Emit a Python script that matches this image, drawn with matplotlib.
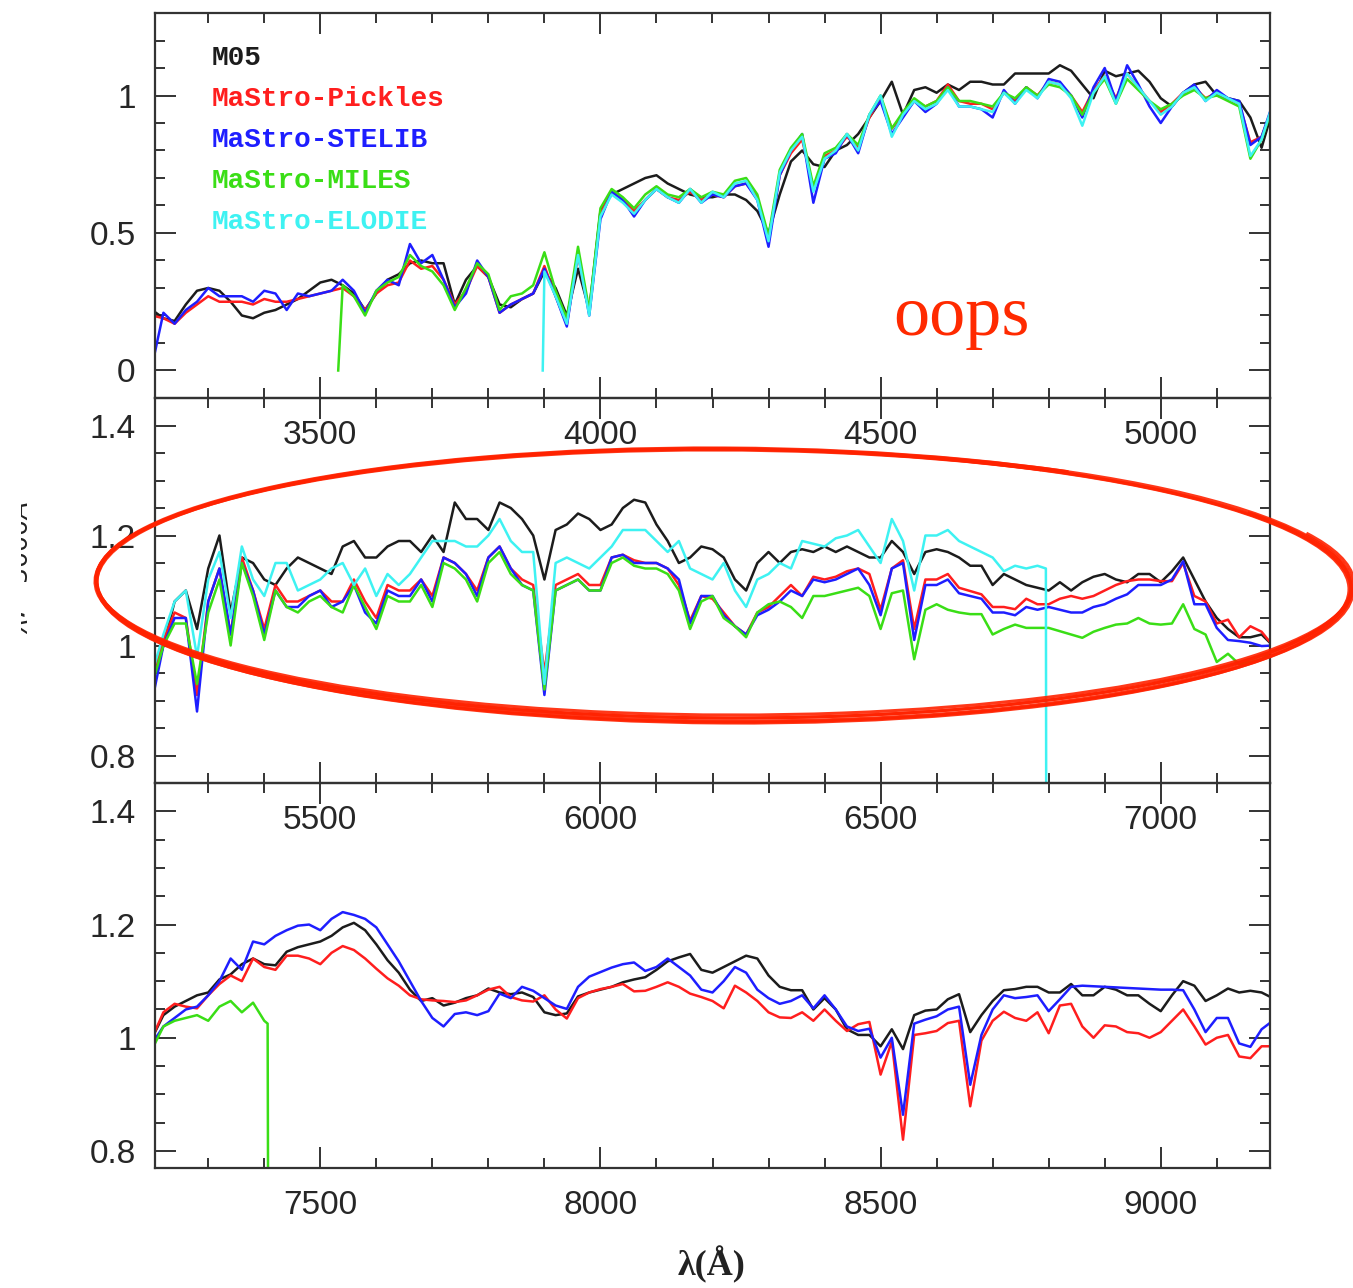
import matplotlib
matplotlib.use('Agg')
import matplotlib.pyplot as plt
import numpy as np
from matplotlib.patches import Arc
from matplotlib.transforms import IdentityTransform, Bbox
from matplotlib.ticker import MultipleLocator, FormatStrFormatter

plt.rcParams['font.family'] = ['Liberation Sans', 'DejaVu Sans']

W, H = 1353, 1288

# wavelength sampling (Angstrom), one grid per panel
wl_top = np.arange(3200, 5201, 20)
wl_mid = np.arange(5200, 7201, 20)
wl_bot = np.arange(7200, 9201, 20)

# wavelength coverage edges of the truncated libraries
miles_blue_edge = 3532
elodie_blue_edge = 3897
elodie_red_edge = [6795, 6796]
miles_red_edge = [7406, 7408]

# ---- top panel 3200-5200 ----
m05_top = [
    0.22, 0.19, 0.18, 0.24, 0.29, 0.30, 0.29, 0.25, 0.20, 0.19,
    0.21, 0.22, 0.24, 0.26, 0.29, 0.32, 0.33, 0.31, 0.28, 0.22,
    0.28, 0.33, 0.35, 0.39, 0.40, 0.39, 0.39, 0.24, 0.33, 0.38,
    0.34, 0.24, 0.23, 0.26, 0.28, 0.36, 0.30, 0.20, 0.37, 0.22,
    0.58, 0.64, 0.66, 0.68, 0.70, 0.71, 0.68, 0.66, 0.64, 0.63,
    0.63, 0.64, 0.64, 0.62, 0.58, 0.50, 0.64, 0.76, 0.80, 0.75,
    0.74, 0.80, 0.82, 0.86, 0.92, 0.98, 1.05, 0.93, 1.02, 1.03,
    1.01, 1.04, 1.02, 1.05, 1.05, 1.04, 1.04, 1.08, 1.08, 1.08,
    1.08, 1.11, 1.09, 1.04, 0.99, 1.09, 1.07, 1.08, 1.09, 1.05,
    0.99, 0.96, 1.01, 1.04, 1.05, 1.00, 0.99, 0.98, 0.92, 0.81,
    0.95]
pickles_top = [
    0.20, 0.19, 0.17, 0.21, 0.24, 0.27, 0.25, 0.25, 0.25, 0.24,
    0.26, 0.25, 0.25, 0.26, 0.27, 0.28, 0.29, 0.30, 0.27, 0.22,
    0.28, 0.31, 0.32, 0.40, 0.37, 0.38, 0.33, 0.24, 0.29, 0.38,
    0.34, 0.21, 0.24, 0.26, 0.28, 0.38, 0.27, 0.17, 0.42, 0.21,
    0.57, 0.65, 0.62, 0.58, 0.62, 0.66, 0.63, 0.62, 0.65, 0.62,
    0.64, 0.63, 0.67, 0.68, 0.63, 0.48, 0.71, 0.79, 0.84, 0.66,
    0.78, 0.80, 0.85, 0.81, 0.92, 0.99, 0.88, 0.93, 0.98, 0.96,
    0.98, 1.04, 0.98, 0.97, 0.97, 0.95, 1.01, 0.98, 1.03, 1.00,
    1.05, 1.04, 1.00, 0.94, 1.02, 1.07, 0.99, 1.08, 1.03, 0.98,
    0.94, 0.97, 1.01, 1.03, 0.99, 1.01, 0.99, 0.97, 0.83, 0.85,
    0.96]
stelib_top = [
    0.02, 0.21, 0.17, 0.22, 0.25, 0.30, 0.27, 0.27, 0.27, 0.25,
    0.29, 0.28, 0.22, 0.28, 0.27, 0.28, 0.29, 0.33, 0.29, 0.21,
    0.29, 0.33, 0.31, 0.46, 0.39, 0.42, 0.33, 0.23, 0.28, 0.40,
    0.34, 0.21, 0.24, 0.26, 0.28, 0.37, 0.27, 0.16, 0.43, 0.20,
    0.55, 0.65, 0.62, 0.56, 0.62, 0.66, 0.63, 0.61, 0.66, 0.61,
    0.64, 0.63, 0.67, 0.68, 0.62, 0.45, 0.71, 0.80, 0.86, 0.61,
    0.77, 0.79, 0.86, 0.79, 0.93, 0.98, 0.86, 0.92, 0.98, 0.94,
    0.97, 1.03, 0.96, 0.96, 0.95, 0.92, 1.02, 0.97, 1.03, 0.99,
    1.06, 1.05, 1.00, 0.92, 1.03, 1.10, 0.98, 1.11, 1.04, 0.96,
    0.90, 0.96, 1.01, 1.04, 0.98, 1.02, 0.99, 0.98, 0.82, 0.85,
    0.97]
# MILES starts at its blue edge, then 3540-5200
miles_top = [
    0.00, 0.31, 0.27, 0.20,
    0.29, 0.32, 0.34, 0.42, 0.38, 0.36, 0.31, 0.22, 0.30, 0.39,
    0.35, 0.22, 0.27, 0.28, 0.31, 0.43, 0.29, 0.19, 0.45, 0.22,
    0.59, 0.66, 0.63, 0.59, 0.64, 0.67, 0.64, 0.63, 0.66, 0.63,
    0.65, 0.64, 0.69, 0.70, 0.64, 0.49, 0.73, 0.81, 0.86, 0.67,
    0.79, 0.81, 0.86, 0.82, 0.93, 1.00, 0.88, 0.94, 0.99, 0.96,
    0.98, 1.03, 0.98, 0.98, 0.97, 0.96, 1.01, 0.99, 1.03, 1.00,
    1.04, 1.03, 1.00, 0.93, 1.01, 1.06, 0.97, 1.06, 1.02, 0.98,
    0.95, 0.97, 1.00, 1.02, 0.99, 1.00, 0.98, 0.96, 0.77, 0.84,
    0.96]
# ELODIE starts at its blue edge, then 3900-5200
elodie_top = [
    0.00, 0.36, 0.27, 0.17, 0.42, 0.20,
    0.56, 0.64, 0.61, 0.57, 0.62, 0.66, 0.63, 0.61, 0.66, 0.61,
    0.65, 0.63, 0.68, 0.69, 0.62, 0.47, 0.72, 0.80, 0.85, 0.65,
    0.77, 0.80, 0.86, 0.80, 0.93, 1.00, 0.85, 0.93, 0.98, 0.95,
    0.97, 1.02, 0.96, 0.96, 0.95, 0.94, 1.01, 0.97, 1.02, 0.99,
    1.05, 1.04, 0.99, 0.89, 1.01, 1.07, 0.97, 1.08, 1.03, 0.98,
    0.93, 0.96, 1.01, 1.03, 0.98, 1.01, 0.99, 0.97, 0.78, 0.84,
    0.97]

# ---- middle panel 5200-7200 ----
m05_mid = [
    0.93, 1.00, 1.08, 1.10, 1.03, 1.14, 1.20, 1.06, 1.16, 1.15,
    1.12, 1.11, 1.14, 1.16, 1.15, 1.14, 1.13, 1.18, 1.19, 1.16,
    1.16, 1.18, 1.19, 1.19, 1.17, 1.20, 1.17, 1.26, 1.23, 1.23,
    1.21, 1.26, 1.25, 1.23, 1.20, 1.12, 1.21, 1.22, 1.24, 1.23,
    1.21, 1.22, 1.25, 1.265, 1.26, 1.22, 1.19, 1.15, 1.16, 1.18,
    1.175, 1.16, 1.12, 1.10, 1.15, 1.17, 1.15, 1.17, 1.175, 1.17,
    1.18, 1.17, 1.18, 1.17, 1.16, 1.16, 1.19, 1.17, 1.13, 1.17,
    1.175, 1.17, 1.16, 1.145, 1.145, 1.11, 1.13, 1.12, 1.11, 1.105,
    1.10, 1.115, 1.10, 1.115, 1.125, 1.13, 1.12, 1.115, 1.13, 1.13,
    1.115, 1.135, 1.16, 1.12, 1.08, 1.05, 1.03, 1.015, 1.015, 1.02,
    1.00]
pickles_mid = [
    0.94, 1.01, 1.06, 1.05, 0.91, 1.08, 1.14, 1.02, 1.16, 1.10,
    1.03, 1.11, 1.08, 1.08, 1.09, 1.10, 1.08, 1.08, 1.12, 1.08,
    1.05, 1.11, 1.10, 1.10, 1.12, 1.09, 1.16, 1.15, 1.13, 1.10,
    1.16, 1.18, 1.14, 1.12, 1.11, 0.95, 1.11, 1.12, 1.13, 1.11,
    1.11, 1.16, 1.165, 1.155, 1.15, 1.15, 1.14, 1.11, 1.045, 1.09,
    1.085, 1.06, 1.035, 1.02, 1.06, 1.07, 1.09, 1.11, 1.09, 1.125,
    1.12, 1.125, 1.135, 1.14, 1.13, 1.065, 1.14, 1.155, 1.03, 1.12,
    1.12, 1.13, 1.105, 1.099, 1.093, 1.07, 1.07, 1.066, 1.085, 1.075,
    1.075, 1.085, 1.09, 1.085, 1.09, 1.10, 1.11, 1.117, 1.12, 1.12,
    1.117, 1.117, 1.15, 1.09, 1.08, 1.04, 1.047, 1.015, 1.035, 1.025,
    1.00]
stelib_mid = [
    0.90, 1.00, 1.05, 1.05, 0.88, 1.08, 1.14, 1.02, 1.15, 1.10,
    1.02, 1.10, 1.07, 1.07, 1.09, 1.10, 1.07, 1.08, 1.11, 1.06,
    1.04, 1.10, 1.09, 1.09, 1.12, 1.08, 1.16, 1.15, 1.13, 1.09,
    1.16, 1.18, 1.14, 1.11, 1.10, 0.91, 1.10, 1.11, 1.12, 1.10,
    1.10, 1.16, 1.165, 1.15, 1.15, 1.15, 1.14, 1.12, 1.04, 1.09,
    1.09, 1.055, 1.035, 1.02, 1.055, 1.065, 1.08, 1.10, 1.09, 1.12,
    1.115, 1.12, 1.13, 1.14, 1.11, 1.055, 1.14, 1.15, 1.01, 1.11,
    1.11, 1.12, 1.095, 1.09, 1.085, 1.06, 1.06, 1.055, 1.07, 1.065,
    1.07, 1.065, 1.06, 1.06, 1.07, 1.075, 1.085, 1.093, 1.11, 1.11,
    1.11, 1.12, 1.153, 1.075, 1.075, 1.032, 1.01, 1.008, 1.005, 0.999,
    1.00]
miles_mid = [
    0.93, 1.00, 1.04, 1.04, 0.93, 1.06, 1.12, 1.00, 1.15, 1.09,
    1.01, 1.10, 1.07, 1.06, 1.08, 1.09, 1.07, 1.06, 1.11, 1.07,
    1.03, 1.09, 1.08, 1.08, 1.11, 1.07, 1.15, 1.14, 1.12, 1.08,
    1.15, 1.17, 1.13, 1.11, 1.10, 0.92, 1.10, 1.11, 1.12, 1.10,
    1.10, 1.15, 1.16, 1.145, 1.14, 1.14, 1.13, 1.10, 1.03, 1.08,
    1.09, 1.05, 1.035, 1.015, 1.06, 1.075, 1.08, 1.07, 1.05, 1.09,
    1.09, 1.095, 1.10, 1.105, 1.09, 1.03, 1.095, 1.10, 0.975, 1.065,
    1.075, 1.065, 1.06, 1.057, 1.057, 1.02, 1.03, 1.038, 1.032, 1.032,
    1.032, 1.026, 1.02, 1.014, 1.025, 1.032, 1.038, 1.04, 1.05, 1.04,
    1.038, 1.04, 1.075, 1.03, 1.02, 0.97, 0.985, 0.966, 0.97, 0.975,
    0.99]
# ELODIE 5200-6780, then its red edge
elodie_mid = [
    0.95, 1.02, 1.08, 1.10, 0.98, 1.12, 1.17, 1.05, 1.18, 1.12,
    1.09, 1.15, 1.15, 1.10, 1.11, 1.12, 1.14, 1.15, 1.11, 1.14,
    1.09, 1.13, 1.11, 1.13, 1.16, 1.19, 1.19, 1.19, 1.18, 1.18,
    1.20, 1.23, 1.19, 1.17, 1.17, 0.93, 1.15, 1.16, 1.15, 1.14,
    1.16, 1.18, 1.21, 1.21, 1.21, 1.19, 1.17, 1.19, 1.14, 1.13,
    1.12, 1.15, 1.10, 1.07, 1.12, 1.13, 1.15, 1.14, 1.19, 1.185,
    1.18, 1.195, 1.20, 1.21, 1.18, 1.15, 1.23, 1.19, 1.10, 1.20,
    1.20, 1.21, 1.19, 1.18, 1.17, 1.16, 1.135, 1.145, 1.14, 1.145,
    1.14, 0.40]

# ---- bottom panel 7200-9200 ----
m05_bot = [
    1.00, 1.04, 1.055, 1.065, 1.075, 1.08, 1.103, 1.112, 1.13, 1.14,
    1.13, 1.128, 1.152, 1.16, 1.165, 1.17, 1.18, 1.195, 1.203, 1.19,
    1.165, 1.137, 1.115, 1.085, 1.065, 1.07, 1.057, 1.062, 1.07, 1.075,
    1.087, 1.08, 1.077, 1.08, 1.072, 1.045, 1.04, 1.043, 1.073, 1.08,
    1.085, 1.09, 1.098, 1.103, 1.107, 1.12, 1.135, 1.142, 1.148, 1.12,
    1.115, 1.125, 1.135, 1.145, 1.14, 1.11, 1.09, 1.084, 1.084, 1.05,
    1.07, 1.05, 1.015, 1.005, 1.005, 0.985, 1.015, 0.98, 1.04, 1.048,
    1.05, 1.068, 1.077, 1.01, 1.04, 1.065, 1.084, 1.086, 1.09, 1.09,
    1.08, 1.08, 1.095, 1.075, 1.075, 1.09, 1.085, 1.075, 1.075, 1.06,
    1.047, 1.075, 1.10, 1.092, 1.065, 1.075, 1.087, 1.08, 1.083, 1.08,
    1.07]
pickles_bot = [
    1.00, 1.045, 1.06, 1.055, 1.052, 1.075, 1.095, 1.11, 1.10, 1.14,
    1.125, 1.12, 1.145, 1.145, 1.14, 1.13, 1.15, 1.162, 1.155, 1.14,
    1.122, 1.105, 1.092, 1.075, 1.068, 1.066, 1.065, 1.063, 1.066, 1.075,
    1.085, 1.09, 1.072, 1.066, 1.064, 1.075, 1.05, 1.034, 1.07, 1.08,
    1.086, 1.09, 1.095, 1.082, 1.083, 1.09, 1.098, 1.09, 1.078, 1.072,
    1.065, 1.052, 1.092, 1.08, 1.065, 1.045, 1.036, 1.035, 1.045, 1.03,
    1.05, 1.03, 1.012, 1.024, 1.028, 0.935, 0.993, 0.82, 1.005, 1.008,
    1.012, 1.026, 1.03, 0.879, 0.995, 1.03, 1.046, 1.035, 1.03, 1.045,
    1.008, 1.057, 1.06, 1.02, 1.00, 1.022, 1.02, 1.01, 1.008, 1.00,
    1.01, 1.03, 1.05, 1.02, 0.988, 1.00, 1.005, 0.967, 0.964, 0.985,
    0.985]
stelib_bot = [
    0.99, 1.02, 1.035, 1.05, 1.055, 1.075, 1.10, 1.14, 1.12, 1.17,
    1.165, 1.18, 1.19, 1.198, 1.20, 1.19, 1.21, 1.222, 1.217, 1.21,
    1.195, 1.165, 1.135, 1.10, 1.065, 1.035, 1.02, 1.042, 1.045, 1.04,
    1.047, 1.078, 1.07, 1.09, 1.083, 1.07, 1.057, 1.051, 1.09, 1.108,
    1.116, 1.124, 1.13, 1.133, 1.118, 1.125, 1.14, 1.125, 1.11, 1.085,
    1.08, 1.10, 1.125, 1.115, 1.085, 1.07, 1.06, 1.065, 1.075, 1.052,
    1.075, 1.05, 1.02, 1.012, 1.016, 0.965, 1.00, 0.864, 1.025, 1.032,
    1.038, 1.05, 1.055, 0.917, 1.005, 1.05, 1.075, 1.07, 1.072, 1.075,
    1.047, 1.068, 1.09, 1.092, 1.091, 1.09, 1.089, 1.088, 1.087, 1.086,
    1.085, 1.085, 1.084, 1.05, 1.01, 1.035, 1.035, 0.99, 0.984, 1.015,
    1.03]
# MILES 7200-7400, then its red edge
miles_bot = [0.98, 1.02, 1.03, 1.035, 1.04, 1.03, 1.055, 1.065, 1.045, 1.062,
             1.03, 1.025, 0.30]

# x positions for every series
x_miles_top = np.concatenate([[miles_blue_edge], wl_top[wl_top >= 3540]])
x_elodie_top = np.concatenate([[elodie_blue_edge], wl_top[wl_top >= 3900]])
x_elodie_mid = np.concatenate([wl_mid[wl_mid <= 6780], elodie_red_edge])
x_miles_bot = np.concatenate([wl_bot[wl_bot <= 7400], miles_red_edge])

series_names = ['M05', 'MaStro-Pickles', 'MaStro-STELIB', 'MaStro-MILES', 'MaStro-ELODIE']
series_colors = ['#1c1c1c', '#ff1e1e', '#1e1eff', '#3ade16', '#3ef2f2']

panels = [
    ([(wl_top, m05_top), (wl_top, pickles_top), (wl_top, stelib_top),
      (x_miles_top, miles_top), (x_elodie_top, elodie_top)],
     (3205, 5195), (-0.1, 1.3), 0.5, 0.1),
    ([(wl_mid, m05_mid), (wl_mid, pickles_mid), (wl_mid, stelib_mid),
      (wl_mid, miles_mid), (x_elodie_mid, elodie_mid)],
     (5205, 7195), (0.75, 1.45), 0.2, 0.05),
    ([(wl_bot, m05_bot), (wl_bot, pickles_bot), (wl_bot, stelib_bot),
      (x_miles_bot, miles_bot), None],
     (7205, 9195), (0.77, 1.45), 0.2, 0.05),
]

fig = plt.figure(figsize=(W / 100, H / 100), dpi=100)
fig.patch.set_facecolor('white')

left = 155 / W
width = (1270 - 155) / W
ph = 385 / H
tops = [13, 398, 783]

for k, (curves, xl, yl, ymaj, ymin) in enumerate(panels):
    ax = fig.add_axes([left, 1 - (tops[k] + 385) / H, width, ph])
    ax.set_facecolor('none')
    for cv, c in zip(curves, series_colors):
        if cv is None:
            continue
        x, v = cv
        ax.plot(x, v, color=c, lw=1.8, solid_joinstyle='round')
    ax.set_xlim(*xl)
    ax.set_ylim(*yl)
    ax.xaxis.set_major_locator(MultipleLocator(500))
    ax.xaxis.set_minor_locator(MultipleLocator(100))
    ax.yaxis.set_major_locator(MultipleLocator(ymaj))
    ax.yaxis.set_minor_locator(MultipleLocator(ymin))
    ax.yaxis.set_major_formatter(FormatStrFormatter('%g'))
    ax.xaxis.set_major_formatter(FormatStrFormatter('%d'))
    ax.tick_params(which='both', direction='in', top=True, right=True,
                   color='#333333', labelcolor='#262626', labelsize=24)
    ax.tick_params(which='major', length=15, width=1.4)
    ax.tick_params(which='minor', length=7, width=1.4)
    ax.tick_params(axis='x', pad=16)
    ax.tick_params(axis='y', pad=14)
    for s in ax.spines.values():
        s.set_linewidth(1.6)
        s.set_color('#333333')
    if k == 0:
        for i, (name, c) in enumerate(zip(series_names, series_colors)):
            ax.text(0.051, 0.883 - i * 0.1065, name, transform=ax.transAxes,
                    color=c, family='Liberation Mono', weight='bold',
                    fontsize=20, va='center', ha='left')

fig.text(712 / W, 1 - 1265 / H, 'λ(Å)', family='Liberation Serif',
         weight='bold', fontsize=26, color='#222222', ha='center', va='center')

# y label, mostly cut off at the left edge as in the original
yl_txt = fig.text(30 / W, 1 - 577 / H, r'$F_{\lambda}/F_{5000Å}$', rotation=90,
                  ha='right', va='center', fontsize=26, color='#222222')
yl_txt.set_clip_on(True)
yl_txt.set_clip_box(Bbox.from_extents(21, 0, 60, H))

# hand-drawn annotation
fig.text(893 / W, 1 - 335 / H, 'oops', family='Liberation Serif', fontsize=52,
         color='#ff2a00', ha='left', va='baseline')

strokes = [(724, 583, 628, 135, -0.3, 0, 360),
           (723, 585, 626, 136, -0.4, 0, 360),
           (725, 582, 629, 133, -0.2, 18, 365),
           (724, 586, 627, 137, -0.35, 0, 360),
           (723, 584, 628, 134, -0.25, 20, 368),
           (725, 587, 628, 135, -0.3, 180, 360)]
for cx, cy, a, b, ang, t1, t2 in strokes:
    arc = Arc((cx, H - cy), 2 * a, 2 * b, angle=ang, theta1=t1, theta2=t2,
              color='#ff2200', lw=2.2, alpha=0.9, transform=IdentityTransform(),
              zorder=10)
    fig.add_artist(arc)

fig.savefig('out.png', dpi=100)
